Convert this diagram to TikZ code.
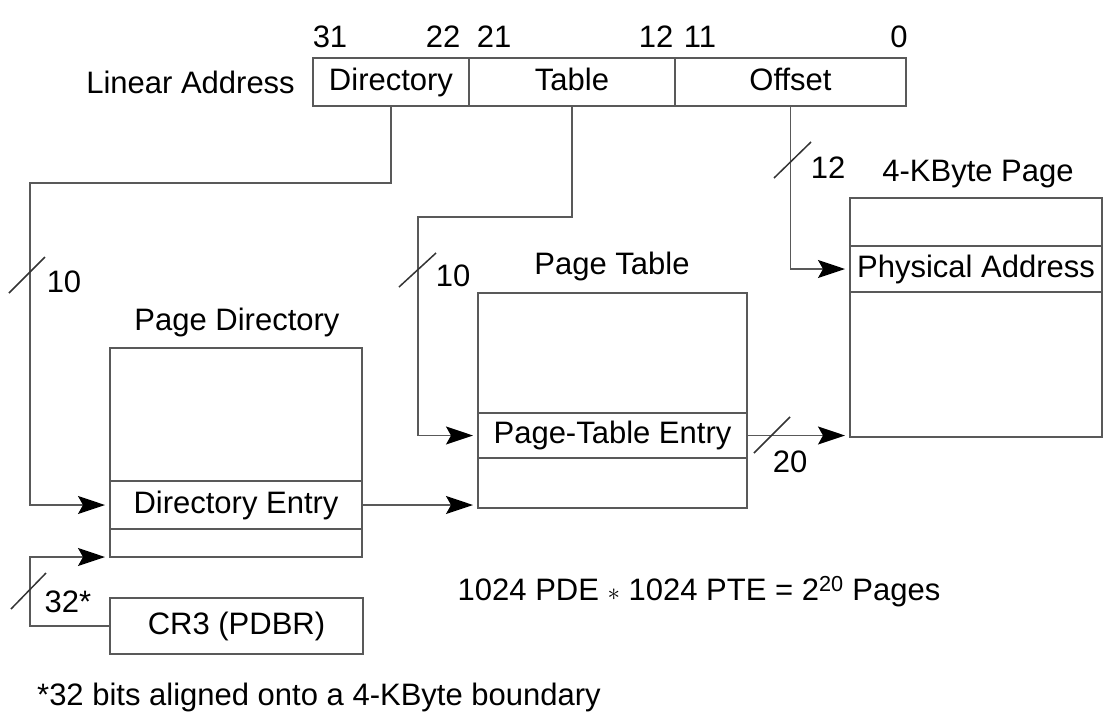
\documentclass[tikz,border=0pt]{standalone}
\usepackage{fontspec}
\setmainfont{Liberation Sans}
\usetikzlibrary{calc,arrows.meta}
\tikzset{cell/.style={rectangle,draw=black!65,line width=1.5pt,inner sep=0pt,outer sep=0pt,text height=22pt,text depth=6pt}}
\tikzset{wire/.style={draw=black!65,line width=1.5pt}}
\tikzset{arr/.style={wire,-{Stealth[length=27pt,width=18pt,inset=5pt,color=black]},shorten >=5pt}}
\tikzset{lbl/.style={inner sep=0pt}}

\begin{document}
\begin{tikzpicture}[x=1pt,y=-1pt,font=\fontsize{31}{37}\selectfont]
        \useasboundingbox (0,0) rectangle (1116,724);

        % linear address
        \node (la)	[lbl,anchor=east] at	(295,82)	{Linear Address};
        \node (dir)	[cell,minimum width=156pt,minimum height=48pt] at	(391,82)	{Directory};
        \node (tbl)	[cell,minimum width=206pt,minimum height=48pt] at	(572,82)	{Table};
        \node (off)	[cell,minimum width=231pt,minimum height=48pt] at	(790.5,82)	{Offset};

        \node (b31)	[lbl] at	(330,37)	{31};
        \node (b22)	[lbl] at	(443,37)	{22};
        \node (b21)	[lbl] at	(494,37)	{21};
        \node (b12)	[lbl] at	(656,37)	{12};
        \node (b11)	[lbl] at	(700,37)	{11};
        \node (b0)	[lbl] at	(899,37)	{0};

        % page directory
        \node (pdname)	[lbl] at	(237,322)	{Page Directory};
        \node (pdtop)	[cell,minimum width=252pt,minimum height=133pt] at	(236,414.5)	{};
        \node (pde)	[cell,minimum width=252pt,minimum height=48pt] at	(236,505)	{Directory Entry};
        \node (pdbot)	[cell,minimum width=252pt,minimum height=28pt] at	(236,543)	{};
        \node (cr3)	[cell,minimum width=253pt,minimum height=56pt] at	(236.5,626)	{CR3 (PDBR)};

        % page table
        \node (ptname)	[lbl] at	(612,266)	{Page Table};
        \node (pttop)	[cell,minimum width=269pt,minimum height=120pt] at	(612.5,353)	{};
        \node (pte)	[cell,minimum width=269pt,minimum height=45pt] at	(612.5,435.5)	{Page-Table Entry};
        \node (ptbot)	[cell,minimum width=269pt,minimum height=50pt] at	(612.5,483)	{};

        % 4-KByte page
        \node (pgname)	[lbl] at	(978,174)	{4-KByte Page};
        \node (pgtop)	[cell,minimum width=252pt,minimum height=48pt] at	(976,222)	{};
        \node (pa)	[cell,minimum width=252pt,minimum height=46pt] at	(976,269)	{Physical Address};
        \node (pgbot)	[cell,minimum width=252pt,minimum height=145pt] at	(976,364.5)	{};

        \coordinate (dl) at (30,183);
        \coordinate (tl) at (418,217);
        \coordinate (cl) at (30,557);

        \draw [arr] (dir.south) |- (dl) |- (pde.west);
        \draw [arr] (tbl.south) |- (tl) |- (pte.west);
        \draw [arr] (off.south) |- (pa.west);
        \draw [arr] (pde.east) -- (pde.east -| pttop.west);
        \draw [arr] (pte.east) -- (pte.east -| pgbot.west);
        \draw [arr] (cr3.west) -| (cl) -- (pdbot.south west);

        % bus widths
        \draw [wire,black!80] (9,293) -- (45,257) (399,287) -- (436,253) (774,178) -- (811,142) (754,453) -- (790,417) (11,609) -- (46,573);
        \node (w1)	[lbl] at	(64,282)	{10};
        \node (w2)	[lbl] at	(453,276)	{10};
        \node (w3)	[lbl] at	(828,168)	{12};
        \node (w4)	[lbl] at	(790,462)	{20};
        \node (w5)	[lbl] at	(68,602)	{32*};

        \node (sum)	[lbl] at	(699,592)	{1024 PDE $\ast$ 1024 PTE = 2\textsuperscript{20} Pages};
        \node (note)	[lbl,anchor=west] at	(37,697)	{*32 bits aligned onto a 4-KByte boundary};
\end{tikzpicture}
\end{document}
